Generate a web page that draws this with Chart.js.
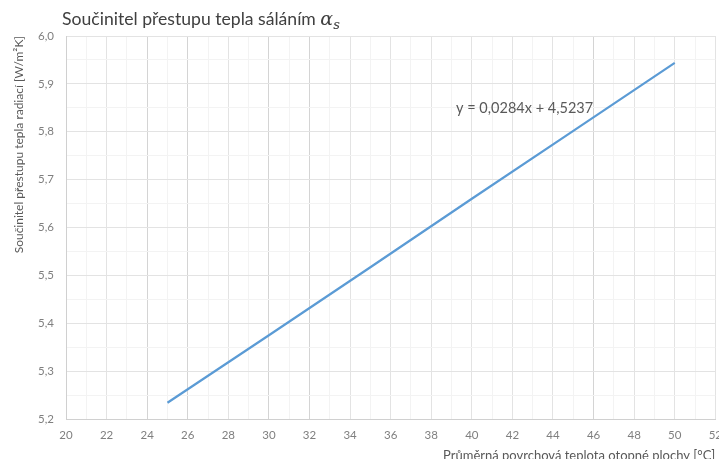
<!DOCTYPE html>
<html>
<head>
<meta charset="utf-8">
<script src="https://cdn.jsdelivr.net/npm/chart.js@4.4.1/dist/chart.umd.min.js"></script>
<style>
    html, body { margin: 0; padding: 0; background: #fff; overflow: hidden; }
    #wrap { width: 719px; height: 459px; overflow: hidden; }
</style>
</head>
<body>
<div id="wrap"><canvas id="chart" width="731" height="464"></canvas></div>
<script>
// Hodnoty
const teploty = [25, 30, 35, 40, 45, 50];
const soucinitel = [5.234, 5.375, 5.517, 5.660, 5.802, 5.944];
const xTicks = [20, 22, 24, 26, 28, 30, 32, 34, 36, 38, 40, 42, 44, 46, 48, 50, 52];
const yTicks = [5.2, 5.3, 5.4, 5.5, 5.6, 5.7, 5.8, 5.9, 6.0];
const rovnice = 'y = 0,0284x + 4,5237';
const rovnicePozice = { x: 42.6, y: 5.848 };
// svislé čáry, které jsou v obrázku tmavší
const tmavsiX = [24, 26, 30, 32, 46];

const FONT = 'Lato, "Open Sans", sans-serif';
const GRAY = '#7f7f7f';

// Nadpis s indexem alfa_s
const titlePlugin = {
    id: 'nadpis',
    afterDraw(chart) {
        const ctx = chart.ctx;
        ctx.save();
        ctx.fillStyle = '#404040';
        ctx.textBaseline = 'alphabetic';
        ctx.font = '17.6px ' + FONT;
        const text = 'Součinitel přestupu tepla sáláním ';
        ctx.fillText(text, 62, 25);
        let x = 62 + ctx.measureText(text).width;
        ctx.font = 'italic 19px "DejaVu Serif", serif';
        ctx.fillText('α', x, 25);
        x += ctx.measureText('α').width;
        ctx.font = 'italic 13px "DejaVu Serif", serif';
        ctx.fillText('s', x, 29);
        ctx.restore();
    }
};

// Rovnice trendu
const equationPlugin = {
    id: 'rovnice',
    afterDatasetsDraw(chart) {
        const ctx = chart.ctx;
        const px = chart.scales.x.getPixelForValue(rovnicePozice.x);
        const py = chart.scales.y.getPixelForValue(rovnicePozice.y);
        ctx.save();
        ctx.fillStyle = '#595959';
        ctx.font = '14.5px ' + FONT;
        ctx.textAlign = 'center';
        ctx.textBaseline = 'middle';
        ctx.fillText(rovnice, px, py);
        ctx.restore();
    }
};

function isMajorX(v) {
    return xTicks.includes(Math.round(v));
}
function isMajorY(v) {
    return Math.round(v * 100) % 10 === 0;
}

new Chart(document.getElementById('chart'), {
    type: 'scatter',
    data: {
        datasets: [{
            data: teploty.map((t, i) => ({ x: t, y: soucinitel[i] })),
            showLine: true,
            borderColor: '#5b9bd5',
            backgroundColor: '#5b9bd5',
            borderWidth: 2.2,
            pointRadius: 0,
            tension: 0
        }]
    },
    options: {
        responsive: false,
        animation: false,
        layout: { padding: { left: 0, right: 0, top: 36, bottom: 0 } },
        plugins: {
            legend: { display: false },
            tooltip: { enabled: false }
        },
        scales: {
            x: {
                type: 'linear',
                min: 20,
                max: 52,
                afterBuildTicks(axis) {
                    const t = [];
                    for (let v = 20; v <= 52; v++) t.push({ value: v });
                    axis.ticks = t;
                },
                afterFit(axis) { axis.height = 45; },
                ticks: {
                    autoSkip: false,
                    maxRotation: 0,
                    padding: 9,
                    color: GRAY,
                    font: { family: FONT, size: 11.5 },
                    callback: v => isMajorX(v) ? String(v) : ''
                },
                grid: {
                    drawTicks: false,
                    color: ctx => {
                        const v = ctx.tick ? ctx.tick.value : 0;
                        if (!isMajorX(v)) return '#f3f3f3';
                        return tmavsiX.includes(v) ? '#d4d4d4' : '#e3e3e3';
                    }
                },
                border: { color: '#d0d0d0' },
                title: {
                    display: true,
                    align: 'end',
                    text: 'Průměrná povrchová teplota otopné plochy [°C]',
                    color: '#595959',
                    font: { family: FONT, size: 13 },
                    padding: { top: 0, bottom: 0 }
                }
            },
            y: {
                type: 'linear',
                min: 5.2,
                max: 6.0,
                afterBuildTicks(axis) {
                    const t = [];
                    for (let i = 0; i <= 16; i++) t.push({ value: 5.2 + i * 0.05 });
                    axis.ticks = t;
                },
                afterFit(axis) { axis.width = 66; },
                ticks: {
                    autoSkip: false,
                    padding: 12,
                    color: GRAY,
                    font: { family: FONT, size: 11.5 },
                    callback: v => isMajorY(v) ? v.toFixed(1).replace('.', ',') : ''
                },
                grid: {
                    drawTicks: false,
                    color: ctx => {
                        const v = ctx.tick ? ctx.tick.value : 0;
                        return isMajorY(v) ? '#e3e3e3' : '#f3f3f3';
                    }
                },
                border: { color: '#d0d0d0' },
                title: {
                    display: true,
                    align: 'end',
                    text: 'Součinitel přestupu tepla radiací [W/m²K]',
                    color: '#595959',
                    font: { family: FONT, size: 12 },
                    padding: { top: 12, bottom: 0 }
                }
            }
        }
    },
    plugins: [titlePlugin, equationPlugin]
});
</script>
</body>
</html>
